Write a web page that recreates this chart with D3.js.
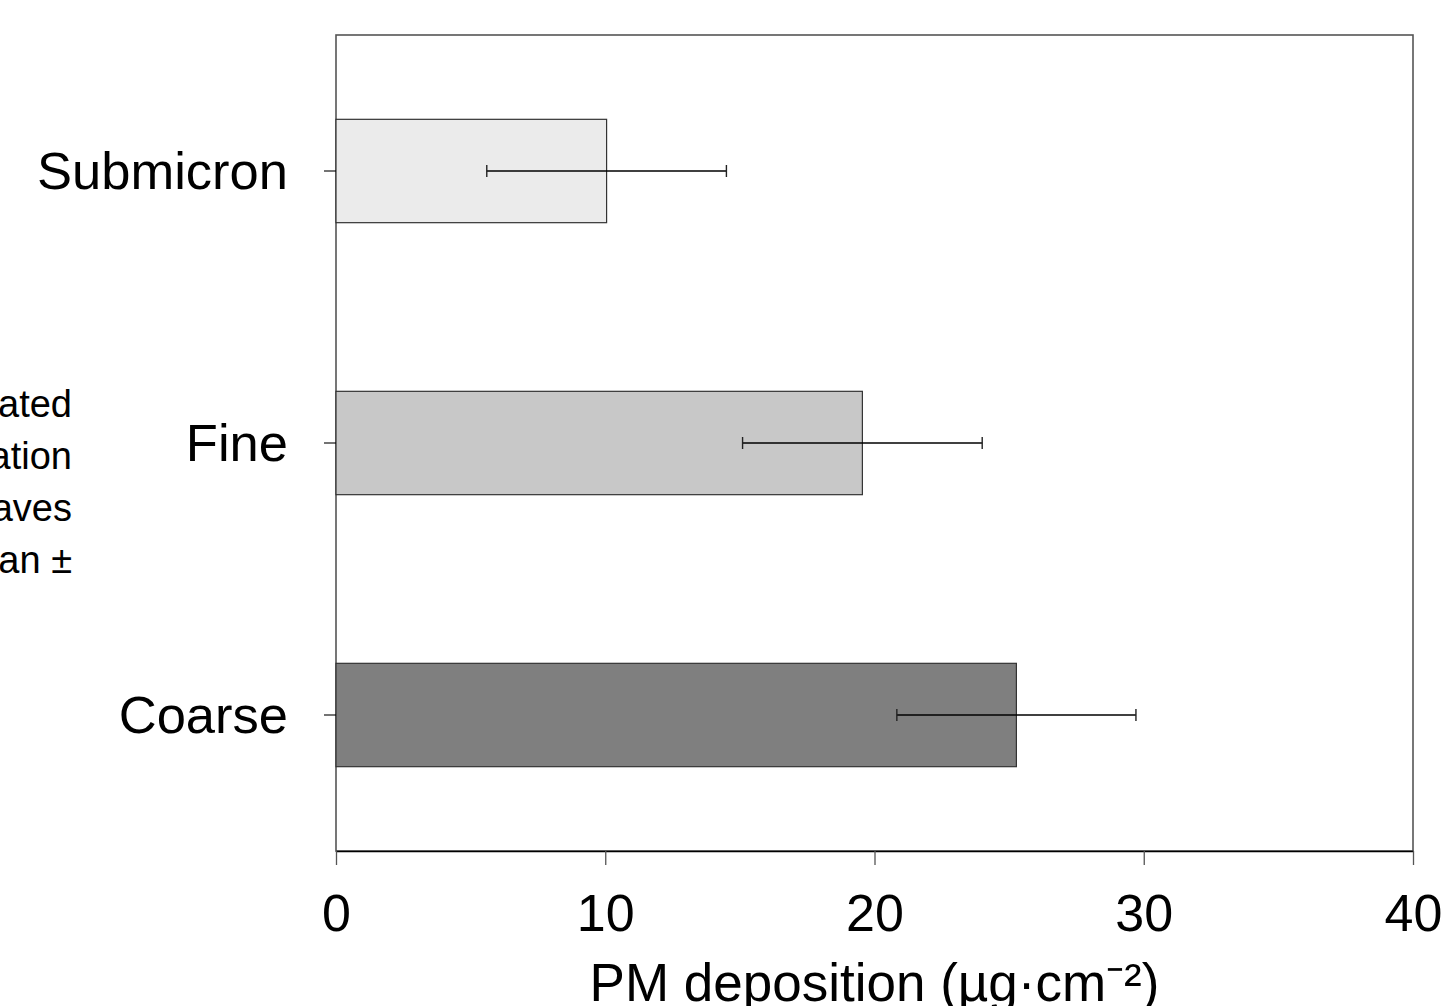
<!DOCTYPE html>
<html>
<head>
<meta charset="utf-8">
<script src="https://cdn.jsdelivr.net/npm/d3@7"></script>
<style>
	body { margin: 0; background: #fff; overflow: hidden; }
	text { font-family: "Liberation Sans", Arial, sans-serif; fill: #000; }
</style>
</head>
<body>
<svg id="chart"></svg>
<script>
'use strict'

var categories = ["Submicron", "Fine", "Coarse"];
var means = [10.05, 19.55, 25.27];
var sds = [4.45, 4.45, 4.44];
var barColors = ["#ebebeb", "#c8c8c8", "#7f7f7f"];
var xTicks = [0, 10, 20, 30, 40];
var sideNote = ["Estimated", "accumulation", "on leaves", "Mean ±"];

var WIDTH = 1446,
	HEIGHT = 1006;

var margin = {
	top: 35,
	right: 33,
	bottom: 155,
	left: 336,
};

var svg = d3.select("#chart")
	.attr('width', WIDTH)
	.attr('height', HEIGHT);

var x = d3.scaleLinear()
	.domain([0, 40])
	.range([margin.left, WIDTH - margin.right]);

var y = d3.scaleBand()
	.domain(categories)
	.range([margin.top, HEIGHT - margin.bottom])
	.paddingInner(0.62)
	.paddingOuter(0.31);

var frameColor = "#555";

// frame (top and right sides)
svg.append("rect")
	.attr('x', x(0))
	.attr('y', margin.top)
	.attr('width', x(40) - x(0))
	.attr('height', HEIGHT - margin.bottom - margin.top)
	.style('fill', 'none')
	.style('stroke', frameColor)
	.style('stroke-width', 1.6);

// bars
svg.selectAll('.bar')
	.data(categories)
	.enter()
	.append("rect")
	.attr('class', 'bar')
	.attr('x', x(0))
	.attr('y', function (d) { return y(d); })
	.attr('width', function (d, i) { return x(means[i]) - x(0); })
	.attr('height', y.bandwidth())
	.style('fill', function (d, i) { return barColors[i]; })
	.style('stroke', '#333')
	.style('stroke-width', 1.2);

// error bars
var errs = svg.selectAll('.err')
	.data(categories)
	.enter()
	.append('g')
	.attr('class', 'err')
	.attr('transform', function (d) {
		return 'translate(0,' + (y(d) + y.bandwidth() / 2) + ')';
	});

errs.append('line')
	.attr('x1', function (d, i) { return x(means[i] - sds[i]); })
	.attr('x2', function (d, i) { return x(means[i] + sds[i]); })
	.style('stroke', '#000')
	.style('stroke-width', 1.3);

[-1, 1].forEach(function (s) {
	errs.append('line')
		.attr('x1', function (d, i) { return x(means[i] + s * sds[i]); })
		.attr('x2', function (d, i) { return x(means[i] + s * sds[i]); })
		.attr('y1', -6)
		.attr('y2', 6)
		.style('stroke', '#222')
		.style('stroke-width', 1.4);
});

// x axis
var xAxis = svg.append('g')
	.attr('transform', 'translate(0,' + (HEIGHT - margin.bottom) + ')')
	.call(d3.axisBottom(x).tickValues(xTicks).tickSize(14).tickSizeOuter(0));

xAxis.select('.domain').style('stroke', '#000').style('stroke-width', 1.3);
xAxis.selectAll('.tick line').style('stroke', frameColor).style('stroke-width', 1.3);
xAxis.selectAll('.tick text')
	.attr('y', 0)
	.attr('dy', 0)
	.attr('transform', 'translate(0,80)')
	.style('font-size', '52px')
	.style('font-family', '"Liberation Sans", Arial, sans-serif')
	.style('fill', '#000');

// y axis
var yAxis = svg.append('g')
	.attr('transform', 'translate(' + x(0) + ',0)')
	.call(d3.axisLeft(y).tickSize(12).tickSizeOuter(0));

yAxis.select('.domain').remove();
yAxis.selectAll('.tick line').style('stroke', '#000').style('stroke-width', 1.1);
yAxis.selectAll('.tick text')
	.attr('x', -48)
	.attr('dy', '0.35em')
	.style('font-size', '52.5px')
	.style('font-family', '"Liberation Sans", Arial, sans-serif')
	.style('fill', '#000');

// x axis title
svg.append('text')
	.attr('x', (x(0) + x(40)) / 2)
	.attr('y', 1001)
	.attr('text-anchor', 'middle')
	.style('font-size', '53px')
	.text('PM deposition (µg·cm⁻²)');

// side note, partly outside the page
svg.append('g')
	.selectAll('text')
	.data(sideNote)
	.enter()
	.append('text')
	.attr('x', 72)
	.attr('y', function (d, i) { return 417 + i * 52; })
	.attr('text-anchor', 'end')
	.style('font-size', '38px')
	.text(function (d) { return d; });
</script>
</body>
</html>
